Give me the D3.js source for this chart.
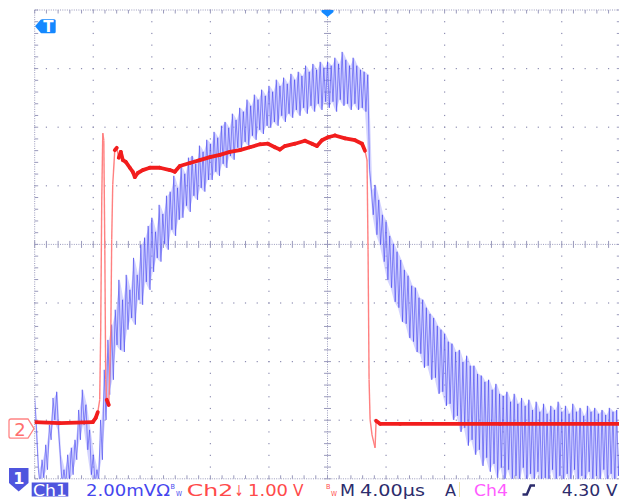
<!DOCTYPE html>
<html><head><meta charset="utf-8">
<script src="https://cdn.jsdelivr.net/npm/d3@7"></script>
<style>html,body{margin:0;padding:0;background:#fff;}svg{display:block;}</style>
</head><body>
<svg id="scope" width="619" height="502"></svg>
<script>
// Channel 2 (red): time in µs, level in V
const ch2Time = [-20.00,-18.29,-16.03,-15.83,-15.69,-15.56,-15.49,-15.42,-15.35,-15.28,-15.21,-15.15,-15.08,-14.94,-14.80,-14.74,-14.67,-14.53,-14.39,-14.26,-14.12,-13.98,-13.78,-13.50,-13.30,-13.16,-12.96,-12.62,-12.14,-11.45,-10.77,-10.43,-10.09,-9.40,-8.72,-8.03,-7.35,-6.67,-5.98,-5.30,-4.62,-4.07,-3.59,-3.25,-2.91,-2.22,-1.54,-1.06,-0.72,-0.38,0.03,0.51,1.20,1.88,2.36,2.56,2.70,2.77,2.84,2.91,3.04,3.25,3.32,3.59,4.96,11.79,20.00];
const ch2Volts = [0.11,0.09,0.11,0.18,0.28,0.49,1.68,3.90,5.04,4.92,3.05,0.83,0.49,0.40,1.68,3.22,4.16,4.75,4.79,4.62,4.72,4.58,4.55,4.45,4.38,4.29,4.36,4.41,4.45,4.45,4.41,4.38,4.48,4.53,4.58,4.63,4.67,4.72,4.75,4.80,4.85,4.86,4.80,4.76,4.82,4.86,4.91,4.86,4.82,4.92,4.97,5.00,4.95,4.92,4.86,4.74,4.58,3.05,0.83,0.15,-0.11,-0.33,0.13,0.08,0.08,0.08,0.08];

// Channel 1 (blue): one sample every 0.125 µs starting at -20 µs, in mV
const ch1Start = -20;
const ch1Step = 0.125;
const ch1MilliVolts = [
  2.76,1.67,0.31,-0.20,0.65,0.03,1.16,0.31,1.84,1.33,2.76,2.01,2.97,1.67,0.82,-0.20,
  0.31,-0.20,0.82,-0.03,1.06,0.14,1.33,0.65,2.35,1.33,3.04,1.84,2.53,0.99,1.67,0.14,
  0.82,-0.20,0.31,-0.03,2.01,0.65,3.72,2.01,4.74,2.87,5.26,3.38,5.77,4.57,6.79,4.40,
  6.11,4.33,6.96,5.09,6.45,5.49,7.54,5.26,6.96,6.11,7.99,5.94,8.23,6.72,8.63,6.45,
  8.91,7.06,8.43,7.54,9.35,7.41,9.04,8.02,9.66,7.82,9.80,8.50,10.34,8.29,9.93,8.84,
  10.68,8.91,10.41,9.32,10.96,9.11,11.02,9.66,10.75,9.52,11.37,9.93,11.16,9.80,11.57,10.20,
  11.43,10.20,11.84,10.48,11.64,10.34,12.05,10.75,12.18,10.61,11.98,11.02,12.46,10.89,12.25,11.30,
  12.66,11.23,12.53,11.50,12.94,11.37,12.73,11.71,13.11,11.57,12.94,11.91,13.28,11.77,13.07,12.05,
  13.41,11.98,13.21,12.18,13.62,12.05,13.41,12.39,13.69,12.18,13.48,12.46,13.82,12.32,13.62,12.59,
  13.89,12.39,13.75,12.66,14.10,12.46,13.89,12.73,14.16,12.53,13.96,12.80,14.23,12.59,14.03,12.87,
  14.23,12.66,14.10,12.87,14.37,12.53,14.16,12.94,14.57,12.73,14.30,12.80,14.10,12.59,14.37,12.80,
  14.10,12.59,13.96,12.66,13.89,12.53,13.79,10.55,9.86,9.01,10.03,8.33,9.52,7.99,9.01,7.41,
  8.77,6.79,8.29,6.52,8.02,6.04,7.75,5.84,7.47,5.36,7.13,5.29,6.93,4.81,6.59,4.68,
  6.52,4.33,6.18,4.27,6.11,3.79,5.84,3.86,5.63,3.38,5.49,3.45,5.22,2.90,5.09,2.97,
  4.95,2.49,4.68,2.56,4.61,2.01,4.33,2.15,4.40,1.60,3.99,1.74,4.20,1.13,3.86,1.33,
  3.86,0.82,3.58,0.99,3.52,0.44,3.31,0.72,3.38,0.24,3.04,0.51,3.24,0.03,2.90,0.38,
  2.83,-0.20,2.97,0.31,2.63,-0.10,2.90,0.10,2.56,-0.31,2.76,0.38,2.49,-0.17,2.70,0.17,
  2.35,-0.24,2.63,0.24,2.29,-0.17,2.56,0.03,2.22,-0.31,2.49,0.31,2.35,-0.24,2.63,0.10,
  2.29,-0.31,2.49,0.17,2.22,-0.17,2.56,0.31,2.29,-0.31,2.42,0.10,2.15,-0.24,2.49,0.24,
  2.29,-0.24,2.42,0.10,2.22,-0.31,2.35,0.31,2.18,-0.24,2.42,0.17,2.29,-0.31,2.35,0.10,
  2.22
];

// Screen geometry: 10 x 8 divisions
const X0 = 34.7, Y0 = 10, DX = 58.56, DY = 58.6, NX = 10, NY = 8;
const X1 = X0 + NX * DX, Y1 = Y0 + NY * DY;

const tScale = d3.scaleLinear().domain([-20, 20]).range([X0, X1]);        // 4.00 µs/div
const ch2Scale = d3.scaleLinear().domain([0, 1]).range([428.5, 428.5 - DY]); // 1.00 V/div
const ch1Scale = d3.scaleLinear().domain([0, 2]).range([Y1, Y1 - DY]);       // 2.00 mV/div

const svg = d3.select("#scope");
svg.append("rect").attr("width", 619).attr("height", 502).attr("fill", "#fff");

// ---- graticule ----
const grid = svg.append("g").attr("fill", "#8e8eb2");
const mx = DX / 5, my = DY / 5;
const vLines = d3.range(1, NX).filter(i => i !== NX / 2);
const hLines = d3.range(1, NY).filter(j => j !== NY / 2);
grid.selectAll("rect.vd").data(d3.cross(vLines, d3.range(0, NY * 5 + 1))).join("rect")
  .attr("x", d => X0 + d[0] * DX - 0.6).attr("y", d => Y0 + d[1] * my - 0.6)
  .attr("width", 1.2).attr("height", 1.2);
grid.selectAll("rect.hd").data(d3.cross(hLines, d3.range(0, NX * 5 + 1))).join("rect")
  .attr("x", d => X0 + d[1] * mx - 0.6).attr("y", d => Y0 + d[0] * DY - 0.6)
  .attr("width", 1.2).attr("height", 1.2);

const lineG = svg.append("g").attr("stroke", "#9a9abc").attr("stroke-width", 1);
const cx = X0 + DX * NX / 2, cy = Y0 + DY * NY / 2;
// centre cross and border as fine dotted lines
[[cx, Y0, cx, Y1], [X0, cy, X1, cy], [X0, Y0, X1, Y0], [X0, Y1, X1, Y1], [X0, Y0, X0, Y1], [X1 - 0.5, Y0, X1 - 0.5, Y1]]
  .forEach(s => lineG.append("line").attr("x1", s[0]).attr("y1", s[1]).attr("x2", s[2]).attr("y2", s[3])
    .attr("stroke-dasharray", "1,1.3"));
// minor ticks on centre cross and border
d3.range(0, NY * 5 + 1).forEach(j => {
  const y = Y0 + j * my;
  lineG.append("line").attr("x1", cx - 3.5).attr("x2", cx + 3.5).attr("y1", y).attr("y2", y);
  lineG.append("line").attr("x1", X0).attr("x2", X0 + 3.5).attr("y1", y).attr("y2", y);
  lineG.append("line").attr("x1", X1 - 3.5).attr("x2", X1).attr("y1", y).attr("y2", y);
});
d3.range(0, NX * 5 + 1).forEach(i => {
  const x = X0 + i * mx;
  lineG.append("line").attr("y1", cy - 3.5).attr("y2", cy + 3.5).attr("x1", x).attr("x2", x);
  lineG.append("line").attr("y1", Y0).attr("y2", Y0 + 3.5).attr("x1", x).attr("x2", x);
  lineG.append("line").attr("y1", Y1 - 3.5).attr("y2", Y1).attr("x1", x).attr("x2", x);
});

// ---- traces ----
svg.append("clipPath").attr("id", "screen").append("rect")
  .attr("x", X0).attr("y", Y0).attr("width", X1 - X0).attr("height", Y1 - Y0);
const traces = svg.append("g").attr("clip-path", "url(#screen)");

const ch1Pts = ch1MilliVolts.map((v, i) => [tScale(ch1Start + i * ch1Step), ch1Scale(v)]);
// light envelope between successive sample pairs
const ch1Pairs = d3.range(0, ch1Pts.length - 1, 2).map(i => ({
  x: (ch1Pts[i][0] + ch1Pts[i + 1][0]) / 2,
  hi: Math.min(ch1Pts[i][1], ch1Pts[i + 1][1]), lo: Math.max(ch1Pts[i][1], ch1Pts[i + 1][1])
}));
traces.append("path")
  .attr("d", d3.area().x(d => d.x).y0(d => d.lo).y1(d => d.hi)(ch1Pairs))
  .attr("fill", "#a9a9ff").attr("fill-opacity", 0.5);
traces.append("path").attr("d", d3.line()(ch1Pts))
  .attr("fill", "none").attr("stroke", "#3a3aee").attr("stroke-opacity", 0.55).attr("stroke-width", 1);

const ch2Pts = ch2Time.map((t, i) => [tScale(t), ch2Scale(ch2Volts[i])]);
const ch2Segs = d3.pairs(ch2Pts);
// fast edges show up faint on the display
const fastEdge = s => Math.abs(s[1][1] - s[0][1]) > 2.5 * Math.abs(s[1][0] - s[0][0]) + 4;
traces.selectAll("line.fast").data(ch2Segs.filter(fastEdge)).join("line")
  .attr("x1", d => d[0][0]).attr("y1", d => d[0][1]).attr("x2", d => d[1][0]).attr("y2", d => d[1][1])
  .attr("stroke", "#ff8080").attr("stroke-width", 1.4);
traces.selectAll("line.slow").data(ch2Segs.filter(s => !fastEdge(s))).join("line")
  .attr("x1", d => d[0][0]).attr("y1", d => d[0][1]).attr("x2", d => d[1][0]).attr("y2", d => d[1][1])
  .attr("stroke", "#f21d1d").attr("stroke-width", 3.8).attr("stroke-linecap", "round");

// ---- markers ----
// trigger level marker
svg.append("path")
  .attr("d", "M35,26.3 L40.6,19.8 Q41.2,19.3 42.2,19.3 L54.2,19.3 Q55.7,19.3 55.7,20.8 L55.7,31.8 Q55.7,33.3 54.2,33.3 L42.2,33.3 Q41.2,33.3 40.6,32.8 Z")
  .attr("fill", "#1488ff");
svg.append("text").attr("x", 48.3).attr("y", 32).attr("text-anchor", "middle")
  .attr("font-family", "DejaVu Sans").attr("font-weight", "bold").attr("font-size", 15).attr("fill", "#fff").text("T");
// trigger position marker
svg.append("path").attr("d", `M${cx - 6},${Y0} L${cx + 6},${Y0} L${cx + 6},${Y0 + 2} L${cx},${Y0 + 7} L${cx - 6},${Y0 + 2} Z`)
  .attr("fill", "#1488ff");
// channel 2 ground marker
svg.append("path").attr("d", "M11,419 L28,419 L34,428.6 L28,438.2 L11,438.2 Q9,438.2 9,436.2 L9,421 Q9,419 11,419 Z")
  .attr("fill", "#fff").attr("stroke", "#ff8484").attr("stroke-width", 1.3);
svg.append("text").attr("x", 20).attr("y", 435.8).attr("text-anchor", "middle")
  .attr("font-family", "DejaVu Sans").attr("font-size", 18).attr("fill", "#ff6e6e").text("2");
// channel 1 ground marker (off screen, below)
svg.append("path").attr("d", "M9,468 L28.5,468 L28.5,483 L18.7,491.5 L9,483 Z").attr("fill", "#4f55de");
svg.append("text").attr("x", 18.7).attr("y", 484).attr("text-anchor", "middle")
  .attr("font-family", "DejaVu Sans").attr("font-weight", "bold").attr("font-size", 16).attr("fill", "#fff").text("1");

// ---- readout ----
svg.append("rect").attr("x", 31.7).attr("y", 482.5).attr("width", 36.6).attr("height", 14).attr("fill", "#4f55de");
const ro = svg.append("g").attr("font-family", "DejaVu Sans").attr("font-size", 15);
const put = (txt, x, w, color, opts = {}) => {
  const t = ro.append("text").attr("x", x).attr("y", opts.y || 496).attr("fill", color).text(txt);
  if (w) t.attr("textLength", w).attr("lengthAdjust", "spacingAndGlyphs");
  if (opts.size) t.attr("font-size", opts.size);
  return t;
};
put("Ch1", 33, 34, "#fff");
put("2.00mVΩ", 86, 84, "#4646ee");
put("B", 170.5, 4.5, "#4646ee", { size: 7, y: 489 });
put("W", 176, 6, "#4646ee", { size: 7, y: 496 });
put("Ch2", 186.7, 46.6, "#ff4a4a");
put("↓", 234.5, 9, "#ff4a4a");
put("1.00", 248, 40, "#ff4a4a");
put("V", 293, 10.5, "#ff4a4a");
put("B", 326, 4.5, "#ff4a4a", { size: 7, y: 489 });
put("W", 331, 6, "#ff4a4a", { size: 7, y: 496 });
put("M", 340, 15, "#2c2c6c");
put("4.00µs", 360, 65, "#2c2c6c");
put("A", 445, 11, "#2c2c6c");
svg.append("line").attr("x1", 459.5).attr("x2", 459.5).attr("y1", 482).attr("y2", 497).attr("stroke", "#efe6a6").attr("stroke-width", 1);
put("Ch4", 474, 34, "#ff5cff");
svg.append("path").attr("d", "M522.5,494.5 L526.8,494.5 L530.6,485.5 L535,485.5")
  .attr("fill", "none").attr("stroke", "#2c2c6c").attr("stroke-width", 2.4);
put("4.30", 561.7, 38.5, "#2c2c6c");
put("V", 606, 11.5, "#2c2c6c");
</script>
</body></html>
